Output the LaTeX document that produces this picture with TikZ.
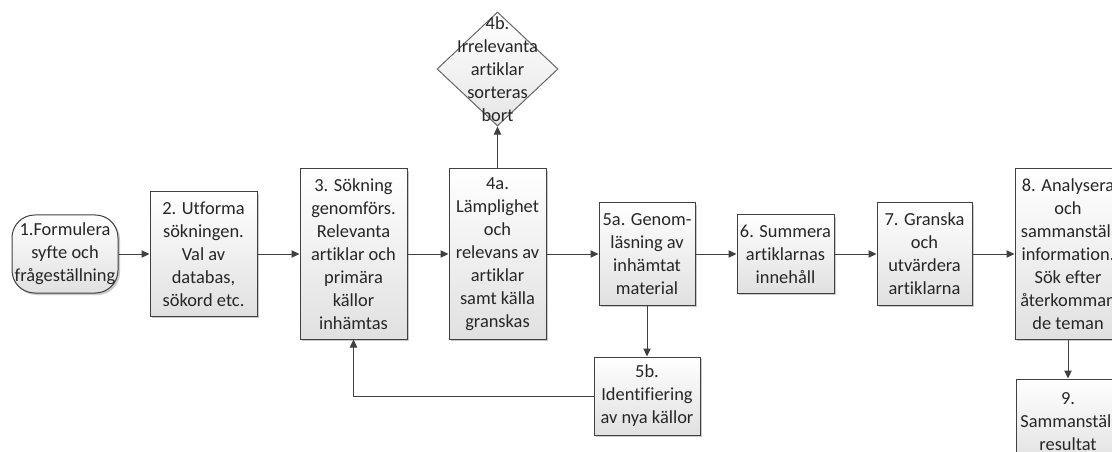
\documentclass[tikz,border=0pt]{standalone}
\usepackage{fontspec}
\setmainfont{Carlito}[Ligatures={NoCommon}]
\usetikzlibrary{shapes.geometric,arrows.meta,shadows}
\newdimen\px \px=0.75pt

\begin{document}
\begin{tikzpicture}[x=0.75pt,y=-0.75pt,
  font=\fontsize{13.8}{17.25}\selectfont,
  box/.style={draw=black!75,line width=0.75pt,top color=white,bottom color=black!12,
    drop shadow={shadow xshift=1.5pt,shadow yshift=-1.5pt,fill=black!35,opacity=0.6},
    align=center,inner sep=0pt,text=black!85},
  term/.style={box,rounded corners=17pt},
  decision/.style={diamond,draw=black!60,line width=0.75pt,top color=white,bottom color=black!10,
    minimum width=121\px,minimum height=114\px,inner sep=0pt},
  flow/.style={draw=black!75,line width=0.75pt,-{Triangle[length=6pt,width=5.5pt]}}]
\useasboundingbox (0,0) rectangle (1112,452);
\node[term,minimum width=106\px,minimum height=78\px] (n1) at (65,254) {1.Formulera\\syfte och\\frågeställning};
\node[box,minimum width=107\px,minimum height=124\px] (n2) at (203.5,254) {2. Utforma\\sökningen.\\Val av\\databas,\\sökord etc.};
\node[box,minimum width=107\px,minimum height=170\px] (n3) at (353.5,254) {3. Sökning\\genomförs.\\Relevanta\\artiklar och\\primära\\källor\\inhämtas};
\node[box,minimum width=97\px,minimum height=170\px] (n4a) at (497.5,254) {4a.\\Lämplighet\\och\\relevans av\\artiklar\\samt källa\\granskas};
\node[decision] (n4b) at (497.5,69) {};
\node[align=center,text=black!85] (t4b) at (n4b.center) {4b.\\Irrelevanta\\artiklar\\sorteras\\bort};
\node[box,minimum width=96\px,minimum height=102\px] (n5a) at (647,254) {5a. Genom-\\läsning av\\inhämtat\\material};
\node[box,minimum width=106\px,minimum height=78\px] (n5b) at (647,396) {5b.\\Identifiering\\av nya källor};
\node[box,minimum width=97\px,minimum height=78\px] (n6) at (785.5,254) {6. Summera\\artiklarnas\\innehåll};
\node[box,minimum width=95\px,minimum height=102\px] (n7) at (924.5,254) {7. Granska\\och\\utvärdera\\artiklarna};
\node[box,minimum width=106\px,minimum height=170\px] (n8) at (1068,254) {8. Analysera\\och\\sammanställ\\information.\\Sök efter\\återkomman\\de teman};
\node[box,minimum width=104\px,minimum height=86\px] (n9) at (1068,422) {9.\\Sammanställ\\resultat};
% flöde
\draw[flow] (n1) -- (n2);
\draw[flow] (n2) -- (n3);
\draw[flow] (n3) -- (n4a);
\draw[flow] (n4a) -- (n4b);
\draw[flow] (n4a) -- (n5a);
\draw[flow] (n5a) -- (n5b);
\draw[flow] (n5b.west) -| (n3.south);
\draw[flow] (n5a) -- (n6);
\draw[flow] (n6) -- (n7);
\draw[flow] (n7) -- (n8);
\draw[flow] (n8) -- (n9);
\end{tikzpicture}
\end{document}
